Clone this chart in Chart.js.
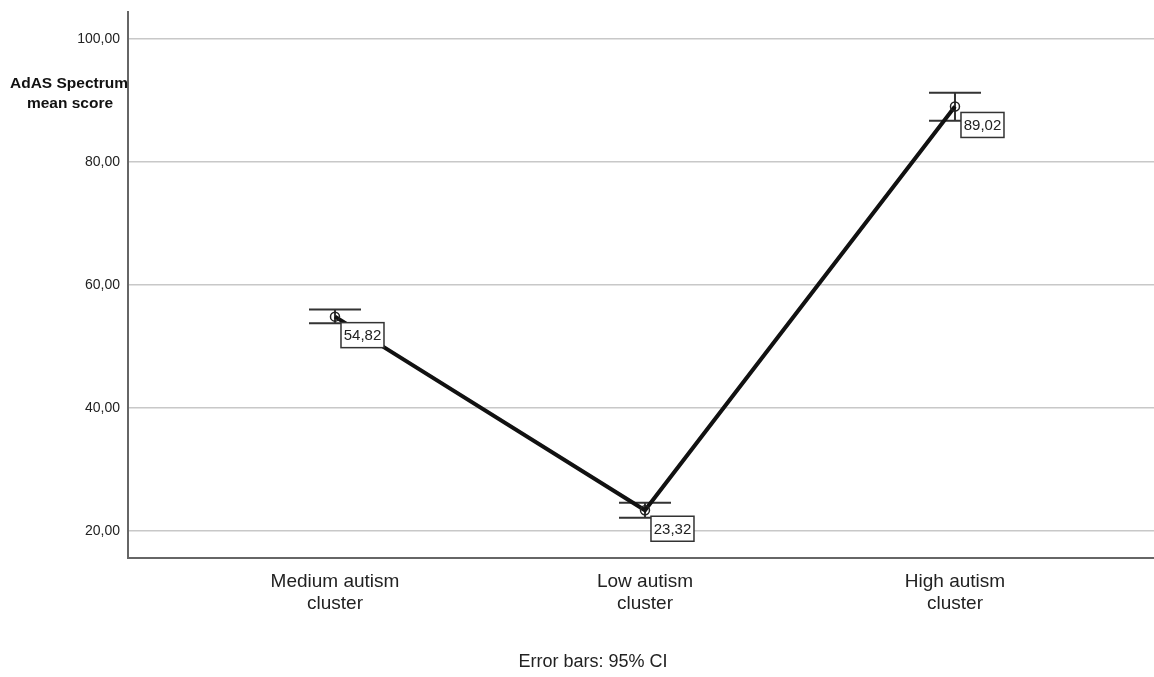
<!DOCTYPE html>
<html>
<head>
<meta charset="utf-8">
<script src="https://cdn.jsdelivr.net/npm/chart.js@4"></script>
<style>
  html, body { margin: 0; padding: 0; background: #fff; overflow: hidden; }
  #wrap { width: 1154px; height: 677px; position: relative; }
  #chart { display: block; }
</style>
</head>
<body>
<div id="wrap"><canvas id="chart"></canvas></div>
<script>
const categories = [['Medium autism', 'cluster'], ['Low autism', 'cluster'], ['High autism', 'cluster']];
const meanScores = [54.82, 23.32, 89.02];
const ciLower = [53.74, 22.10, 86.70];
const ciUpper = [56.00, 24.55, 91.25];
const yTicks = [20, 40, 60, 80, 100];
const yTitle = ['AdAS Spectrum', 'mean score'];
const footnote = 'Error bars: 95% CI';

const fmt = v => v.toFixed(2).replace('.', ',');
const FONT = '"Liberation Sans", Arial, Helvetica, sans-serif';

// error bars, value boxes and free texts
const extrasPlugin = {
    id: 'extras',
    beforeDatasetsDraw(chart) {
        const { ctx, scales: { x, y } } = chart;
        ctx.save();
        ctx.strokeStyle = '#333';
        ctx.lineWidth = 2;
        for (let i = 0; i < meanScores.length; i++) {
            const px = x.getPixelForValue(i);
            const top = y.getPixelForValue(ciUpper[i]);
            const bot = y.getPixelForValue(ciLower[i]);
            ctx.beginPath();
            ctx.moveTo(px, top); ctx.lineTo(px, bot);
            ctx.moveTo(px - 26, top); ctx.lineTo(px + 26, top);
            ctx.moveTo(px - 26, bot); ctx.lineTo(px + 26, bot);
            ctx.stroke();
        }
        ctx.restore();
    },
    afterDatasetsDraw(chart) {
        const { ctx, scales: { x, y } } = chart;
        ctx.save();
        ctx.font = '15px ' + FONT;
        ctx.textBaseline = 'middle';
        ctx.textAlign = 'center';
        for (let i = 0; i < meanScores.length; i++) {
            const px = x.getPixelForValue(i);
            const py = y.getPixelForValue(meanScores[i]);
            const bx = px + 6, by = py + 6, bw = 43, bh = 25;
            ctx.fillStyle = '#fff';
            ctx.fillRect(bx, by, bw, bh);
            ctx.strokeStyle = '#333';
            ctx.lineWidth = 1.5;
            ctx.strokeRect(bx, by, bw, bh);
            ctx.fillStyle = '#222';
            ctx.fillText(fmt(meanScores[i]), bx + bw / 2, by + bh / 2 + 1);
        }
        ctx.restore();
    },
    afterDraw(chart) {
        const { ctx } = chart;
        ctx.save();
        ctx.fillStyle = '#111';
        ctx.textAlign = 'center';
        ctx.textBaseline = 'middle';
        ctx.font = 'bold 15.5px ' + FONT;
        ctx.fillText(yTitle[0], 69, 84);
        ctx.fillText(yTitle[1], 70, 104);
        ctx.fillStyle = '#222';
        ctx.font = '18px ' + FONT;
        ctx.fillText(footnote, 593, 662);
        ctx.restore();
    }
};

new Chart(document.getElementById('chart'), {
    type: 'line',
    data: {
        datasets: [{
            data: meanScores.map((v, i) => ({ x: i, y: v })),
            borderColor: '#111',
            borderWidth: 4,
            pointRadius: 4.5,
            pointBorderWidth: 1.5,
            pointBorderColor: '#222',
            pointBackgroundColor: 'rgba(255,255,255,0)',
            tension: 0,
            fill: false,
        }]
    },
    options: {
        responsive: true,
        maintainAspectRatio: false,
        animation: false,
        layout: { autoPadding: false, padding: { top: 12, right: 0, left: 0, bottom: 0 } },
        scales: {
            x: {
                type: 'linear',
                min: -0.6677,
                max: 2.642,
                afterBuildTicks: scale => { scale.ticks = categories.map((c, i) => ({ value: i })); },
                afterFit: scale => {
                    scale.height = 119;
                    scale.paddingLeft = 0;
                    scale.paddingRight = 0;
                },
                grid: { display: false, drawTicks: false },
                border: { display: true, color: '#666', width: 2 },
                ticks: {
                    padding: 12,
                    autoSkip: false,
                    maxRotation: 0,
                    color: '#222',
                    font: { family: FONT, size: 19 },
                    callback: (v) => categories[v],
                }
            },
            y: {
                min: 15.55,
                max: 104.39,
                afterBuildTicks: scale => { scale.ticks = yTicks.map(v => ({ value: v })); },
                afterFit: scale => {
                    scale.width = 128;
                    scale.paddingTop = 0;
                    scale.paddingBottom = 0;
                },
                grid: { color: '#c8c8c8', lineWidth: 1.5, drawTicks: false },
                border: { display: true, color: '#666', width: 2 },
                ticks: {
                    padding: 8,
                    color: '#222',
                    font: { family: FONT, size: 14 },
                    callback: v => fmt(v),
                }
            }
        },
        plugins: {
            legend: { display: false },
            tooltip: { enabled: false }
        }
    },
    plugins: [extrasPlugin]
});
</script>
</body>
</html>
